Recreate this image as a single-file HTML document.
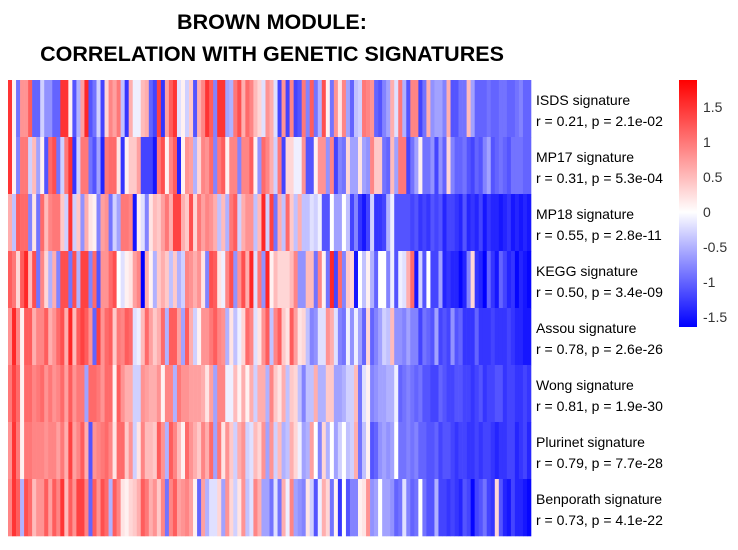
<!DOCTYPE html>
<html><head><meta charset="utf-8"><style>
body{margin:0;background:#fff;width:738px;height:545px;overflow:hidden;font-family:"Liberation Sans",sans-serif}
</style></head><body>
<svg id="chart" width="738" height="545" xmlns="http://www.w3.org/2000/svg">
<defs><linearGradient id="lg" x1="0" y1="0" x2="0" y2="1">
<stop offset="0" stop-color="#ff0000"/><stop offset="0.534" stop-color="#ffffff"/><stop offset="1" stop-color="#0000ff"/></linearGradient></defs>
<text x="272" y="29" text-anchor="middle" font-size="21.5" font-weight="bold">BROWN MODULE:</text>
<text x="272" y="61" text-anchor="middle" font-size="21.5" font-weight="bold">CORRELATION WITH GENETIC SIGNATURES</text>
<g id="cells"></g>
<g id="labels"></g>
<rect x="679" y="80" width="18" height="247" fill="url(#lg)"/>
<g id="legend"></g>
</svg>
<script>
const rowNames=["ISDS signature","MP17 signature","MP18 signature","KEGG signature","Assou signature","Wong signature","Plurinet signature","Benporath signature"];
const rowStats=["r = 0.21, p = 2.1e-02","r = 0.31, p = 5.3e-04","r = 0.55, p = 2.8e-11","r = 0.50, p = 3.4e-09","r = 0.78, p = 2.6e-26","r = 0.81, p = 1.9e-30","r = 0.79, p = 7.7e-28","r = 0.73, p = 4.1e-22"];
const legendTicks=[1.5,1,0.5,0,-0.5,-1,-1.5];
const legendLabels=["1.5","1","0.5","0","-0.5","-1","-1.5"];
const rowISDS=[1.5,0.1,-0.9,0.8,0.8,1.2,-1,-1,-0.3,-0.7,-0.7,-1,-1,1.5,1.5,0.1,-1.1,-0.5,0.7,1.6,-1.1,-0.9,-0.3,-1.2,0.3,0.9,0.7,1,-0.4,-1.3,0.6,-0.1,-0.1,0.5,0.6,-1,-1.2,1.4,-1.3,0.7,1.2,1.5,-0.2,0.1,-0.3,0.4,-1.1,0.6,0.9,1.5,1.2,-0.8,1.5,1.5,-0.6,-0.5,1,1.3,0.6,1.1,0.9,0.5,0.3,-0.2,0.8,0.6,-0.2,-1.2,0.8,-1.2,0.9,-1.2,-1.1,1,-0.8,1.2,-0.9,-0.5,1.3,0.1,-0.9,0.8,0.2,0.9,-0.6,-1,-0.4,-0.3,1,0.9,0.8,-1,-1.1,-0.8,-0.6,0.6,-0.2,1,-0.5,-1.1,0.9,0.9,-1.2,-0.9,0.6,-0.7,-0.6,-0.6,-0.8,0.6,-1.1,-1.1,-0.9,-0.9,0.5,-0.6,-1,-1,-1,-0.9,-1,-1,-0.9,-0.9,-1,-1,-0.9,-0.8,-1,-1];
const rowMP17=[1.5,0.1,-0.8,1,1,-0.3,0.5,-0.6,0.1,-1.1,1.1,1.3,-0.9,-0.3,1,1.5,-1.3,-0.3,1,1,-0.9,-1.1,-0.6,-1.4,1,1.1,1.1,0.2,-1.3,0.1,0.4,0.4,0.7,-1.2,-1.2,-1.2,-1.5,1,1.3,0.1,0.9,1.2,-1.4,0.1,0.8,0.7,-0.5,0.3,0.9,0.8,1.1,-0.8,1,1.2,0.1,0.9,0.9,-0.8,0.9,0.9,1.2,0.1,-0.7,1.1,0.9,0.6,-0.3,1,-1.2,0.3,0.3,-0.1,-0.1,0.8,-1.1,-1.1,0.1,0.8,0.8,-0.7,0.9,-1.2,-0.8,-0.9,0.3,-0.6,-0.6,0.2,-0.6,-0.7,0.9,0.4,0.4,-0.9,-1,0.5,-0.6,1,1,-1.2,-0.9,-0.6,0.1,-0.9,-0.9,-0.7,-1.2,-0.7,-1,0.3,-0.8,-1,-1,-0.9,-1.1,-1.2,-1,-1.1,-0.8,-0.6,-1.1,-1,-0.9,-1,-1.1,-0.9,-0.9,-0.9,-1,-1];
const rowMP18=[0.6,-0.4,1.2,1.1,1.1,-0.8,0.2,-0.9,1.1,0.5,0.9,1,1,0.4,-0.3,1.5,-0.3,0.4,-0.7,0.6,0.2,0.1,-0.8,0.7,0.8,-0.9,-0.3,-0.6,1,1,0.9,-1.5,0.1,-0.2,-0.8,0.2,0.5,0.4,0.7,1,0.6,1.4,1.4,0.6,0.4,1.3,0.3,1,0.7,0.9,0.8,0.6,-0.4,0.5,-0.5,1,1.2,-0.3,0.6,0.8,0.8,-0.4,0.5,1.6,-0.3,1.4,-0.9,0.6,-0.4,1.1,0.4,-0.4,0.6,-0.4,-0.4,-0.2,-0.3,-0.1,-1.1,-1.1,0,-0.6,-0.6,0,-0.4,-1.2,-0.8,-1.3,-1.5,-1.2,-0.3,-1.3,-1.3,-1.2,-0.5,-0.1,-1.1,-1.1,-1.1,-1.1,-1.2,-1.1,-1.3,-1.2,-1.3,-1.1,-1.2,-1.1,-1.4,-1.2,-1.2,-1.3,-1.4,-1.1,-1.4,-1.3,-1.4,-1.2,-1.5,-1.3,-1.4,-1.4,-1.5,-1.4,-1.3,-1.5,-1.4,-1.5,-1.4,-1.5];
const rowKEGG=[1.2,1,0.3,1.2,1.6,0.5,1.3,-0.9,0.9,0.3,-0.5,0.6,-0.8,1.3,1.3,-0.9,1.3,-0.5,1.4,1.4,-0.8,1.1,-1.1,0.8,0.8,1.1,1.3,0,-0.2,0.1,0.2,0.7,0.9,-1.7,0.6,0.1,-0.5,0.4,0.6,0.4,-0.4,0.4,-0.5,-0.3,0.9,0.8,0.6,0.8,0.2,-0.8,1.3,1.2,0.2,-0.1,0.9,1.3,-0.7,0.8,1.3,0.6,1.6,-0.2,1,-0.7,1.6,0.1,0.5,0.3,0.3,0.3,0.5,0.9,-0.7,-0.7,0.5,0.5,-0.9,0.9,0.1,-0.9,1.6,-1.2,1.1,-0.8,0.4,0.3,-1.5,0,-0.4,0.1,-0.5,-1,0,0,-0.8,-0.1,-1.1,-0.1,-0.2,0.6,1.1,-1.5,-0.3,-1.1,0,-1.2,-1.2,-0.6,-1.4,-1.3,-1.4,-1.4,-1.6,-1.4,-0.8,0.3,-1.3,-1.4,-1.8,-1,-1.3,-1.5,-1,-1.2,-1.4,-1.3,-1.6,-1.4,-1.5,-1.6];
const rowAssou=[0.8,1.6,0.9,0.1,1.2,1.2,0.6,0.9,0.9,1.2,0.6,0.8,1.1,1.3,0.6,1.6,0.5,1.2,1.4,1.2,0.8,-1,1.4,0.8,1.1,1.2,0.4,1,0.9,1.2,1.1,-0.2,-0.1,0.5,1.1,0.7,0.4,0.6,1.1,-0.5,1.2,1.2,0.7,-0.6,1.2,0.6,-0.3,0.1,0.8,0.8,1,1.2,0.9,0.8,-0.5,0.2,-0.4,-0.1,0.3,1.1,0.9,-0.2,0.2,0.8,1.2,-0.4,0.9,1.2,0.4,0.2,1.2,0.7,0.2,0.3,-0.4,-0.8,-0.7,-0.2,-0.2,0.8,0.6,-0.2,-0.8,-0.9,-0.1,-0.7,-0.1,-0.6,-1,0.3,-1,-0.8,-0.6,-0.3,-0.4,0.5,-0.7,-0.7,-0.8,-0.6,-0.8,-0.8,-1.2,-0.9,-1,-1.1,-0.6,-1.2,-1.1,-1.2,-0.7,-1.1,-1,-1.3,-1.3,-1.3,-1,-1.3,-1.3,-1.3,-1.2,-1.3,-1.3,-1.3,-1.2,-1.3,-1.4,-1.4,-1.5,-1.5];
const rowWong=[1,1.4,1.1,0.1,1.1,1.1,0.9,1,1.1,0.8,1,0.8,0.9,1.1,0.7,1.2,0.8,1,1,-0.6,1.1,1.1,1,0.8,1.1,1.1,0.1,1.2,0.8,0.6,0.6,-0.3,-0.3,0.8,0.7,0.6,0.6,0.8,0.1,0.9,0.9,-0.5,1,0.8,0.8,0.7,0.7,0.7,0.6,0.2,0.7,-0.6,0.9,0.9,-0.1,-0.1,0.5,0.1,0.6,0.1,0.6,-0.3,0.6,0.6,-0.5,0.9,0.4,0.2,0.6,-0.4,0.4,0.3,-0.4,-0.8,-0.4,-0.4,0.6,-0.5,-0.5,0.4,0.4,-0.6,-0.6,-0.5,-0.3,-0.3,0.5,-0.9,-0.2,0.1,-0.8,-0.7,-0.6,-0.6,-0.5,-0.5,-0.1,-1,-0.9,-0.8,-0.9,-1,-0.9,-1.1,-1.1,-1.2,-1.2,-1,-1.1,-1.2,-1.2,-1.1,-1.1,-1.2,-1.2,-1.3,-1.2,-1.1,-1.3,-1.2,-1.2,-1.1,-1.1,-1.3,-1.2,-1.2,-1.3,-1.3,-1.2,-1.3];
const rowPlurinet=[0.8,1.5,1,0.1,1,1,0.9,0.9,0.9,0.8,0.9,0.9,0.7,1,0.6,1.4,0.7,0.9,1.2,0.6,-1.1,0.8,0.9,1,1.1,0.9,0.2,1.1,1.1,0.4,0.8,-0.3,0.2,0.9,0.5,0.5,0.4,1.2,0.8,-0.5,1.2,0.9,0.5,0.1,1.1,0.8,0.6,0.4,0.9,0.6,1.1,-0.6,1,0.2,0.8,0.4,-0.3,0.6,0.8,-0.3,-0.2,0.5,0.3,0.8,-0.6,0.8,-0.3,0.5,-0.5,-0.4,0.6,0.3,-0.1,-0.6,-0.5,0.7,0,-0.8,0.3,-0.5,0,-0.6,-0.3,0,-0.4,-0.3,0.6,-0.9,-0.4,0.1,-1.1,-1,-0.7,-0.6,-0.7,-0.6,0,-0.9,-0.9,-0.8,-0.9,-0.8,-1,-1,-1.1,-1.1,-1,-1.2,-1.1,-1.1,-1.2,-1.3,-1.2,-1.2,-1.3,-1.3,-1.2,-1.3,-1.2,-1.2,-1.3,-1.4,-1.3,-1.3,-1.2,-1.2,-1.4,-1.3,-1.2,-1.4];
const rowBenporath=[0.9,1.5,1.2,-0.5,1.3,1.1,0.5,0.8,0.8,1.2,0.7,1.2,0.9,1.5,0.5,1.2,0.8,1.4,1.4,0.9,-1,1.2,0.8,1.3,1.1,-0.5,1.2,0.9,0.2,0.1,0.3,0.4,0.6,1.2,1,0.6,0.8,0.4,0.9,-0.9,0.9,1.2,0.7,0.8,0.9,0.7,0.1,-1,0.7,-0.5,-0.2,-0.2,0.3,-0.6,0.8,0.3,-0.3,0.2,0.8,-0.4,-0.2,0.9,0.6,-0.6,-0.6,-0.9,-0.2,-0.9,0.6,-0.1,0.9,-0.6,-0.7,-0.8,0.2,-0.3,-1.1,-0.1,0.6,0.3,-0.9,0.1,-1.3,0,-1.1,-0.8,-0.8,0.1,0.2,0.8,-0.7,-0.6,0,-0.6,-0.6,-0.7,-1,-0.9,-0.2,-0.8,-1,-0.9,0,-0.9,-1.1,-1.1,-0.5,-1.2,-1.2,-1.3,-1.2,-1.3,-1.4,-1.1,-1.2,-1.6,-1.2,-1.1,-0.9,-1.2,-1.3,0.3,-1.1,-1.4,-1.5,-1.2,-1.4,-1.4,-1.5,-1.6];
const rows=[rowISDS,rowMP17,rowMP18,rowKEGG,rowAssou,rowWong,rowPlurinet,rowBenporath];

const NS="http://www.w3.org/2000/svg";
const X0=8,X1=531,Y0=80,Y1=536,VMAX=1.886,VMIN=-1.64;
const nCols=rows[0].length;
const xScale=i=>X0+(X1-X0)*i/nCols;
const yScale=r=>Y0+(Y1-Y0)*r/rows.length;
const legY=v=>212-v*70;
function color(v){
  let t, r,g,b;
  if(v>=0){t=Math.min(1,v/VMAX);r=255;g=b=Math.round(255*(1-t));}
  else{t=Math.min(1,-v/-VMIN);b=255;r=g=Math.round(255*(1-t));}
  return `rgb(${r},${g},${b})`;
}
const cells=document.getElementById('cells');
rows.forEach((row,r)=>{
  row.forEach((v,c)=>{
    const el=document.createElementNS(NS,'rect');
    
    
    const x=xScale(c),x2=xScale(c+1);
    el.setAttribute('x',x);el.setAttribute('width',x2-x+0.3);
    el.setAttribute('y',yScale(r));el.setAttribute('height',yScale(r+1)-yScale(r)+0.3);
    el.setAttribute('fill',color(v));
    cells.appendChild(el);
  });
});
const labels=document.getElementById('labels');
rowNames.forEach((n,r)=>{
  const y=yScale(r);
  const t1=document.createElementNS(NS,'text');
  
  
  t1.setAttribute('x',536);t1.setAttribute('y',y+25);t1.setAttribute('font-size','14');
  t1.textContent=n;labels.appendChild(t1);
  const t2=document.createElementNS(NS,'text');
  
  
  t2.setAttribute('x',536);t2.setAttribute('y',y+46);t2.setAttribute('font-size','14');
  t2.textContent=rowStats[r];labels.appendChild(t2);
});
const leg=document.getElementById('legend');
legendTicks.forEach((v,i)=>{
  const t=document.createElementNS(NS,'text');
  
  
  t.setAttribute('x',703);t.setAttribute('y',legY(v)+5);t.setAttribute('font-size','14');t.setAttribute('fill','#333');
  t.textContent=legendLabels[i];leg.appendChild(t);
});
</script>
</body></html>
